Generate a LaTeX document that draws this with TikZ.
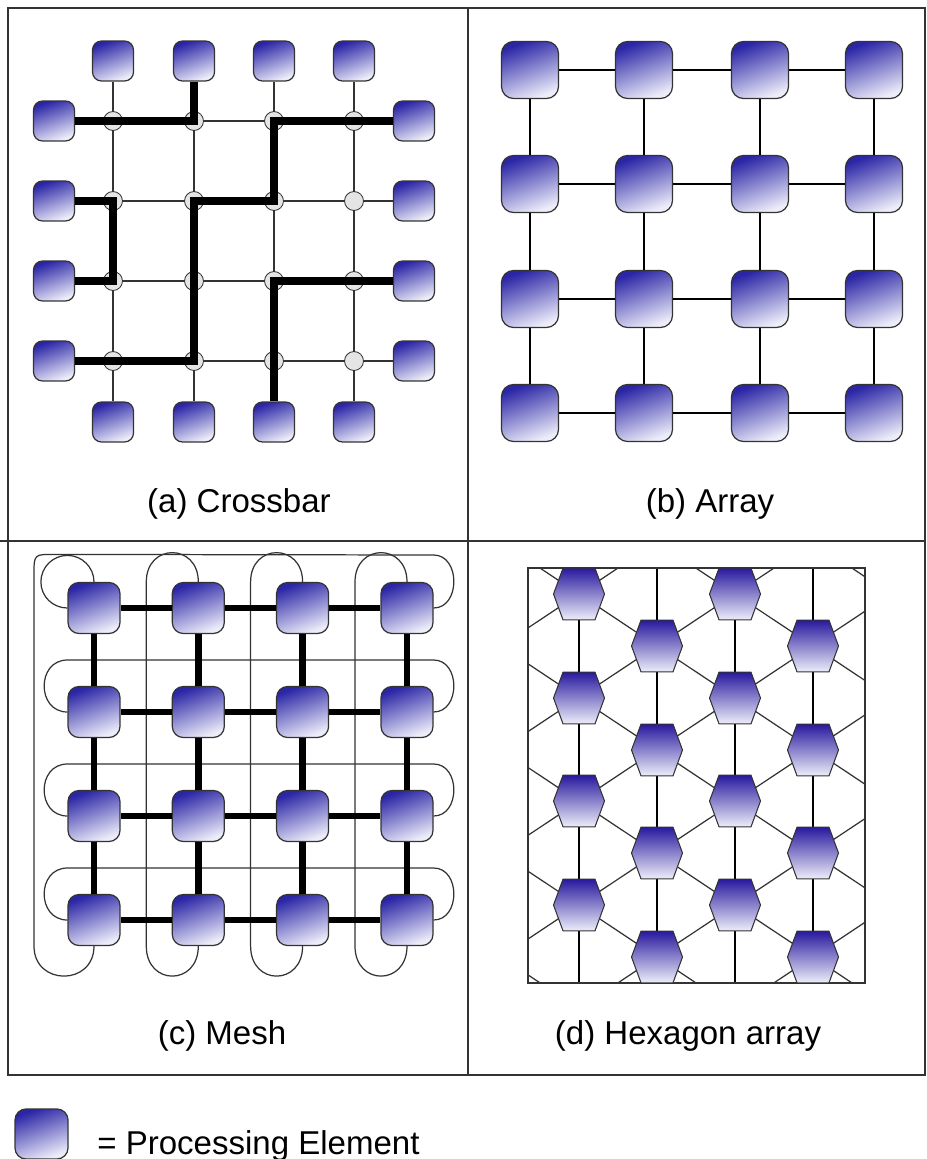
\documentclass[tikz,border=0pt]{standalone}
\usepackage{fontspec}
\setmainfont{Liberation Sans}
\usetikzlibrary{calc}
\definecolor{PEDarkClr}{rgb}{0.17,0.15,0.65}
\definecolor{PELightClr}{rgb}{0.93,0.93,0.98}
\definecolor{HexDarkClr}{rgb}{0.16,0.10,0.62}
\definecolor{WireClr}{rgb}{0.2,0.2,0.2}
\definecolor{SwitchClr}{rgb}{0.9,0.9,0.9}

\begin{document}
\begin{tikzpicture}[x=0.02cm,y=-0.02cm,
  pe/.style={draw=WireClr,line width=0.7pt,top color=PEDarkClr,bottom color=PELightClr,shading angle=20,inner sep=0pt},
  crosspe/.style={pe,minimum width=0.82cm,minimum height=0.8cm,rounded corners=0.18cm},
  arraype/.style={pe,minimum size=1.14cm,rounded corners=0.24cm},
  meshpe/.style={pe,minimum width=1.04cm,minimum height=1.02cm,rounded corners=0.22cm},
  keype/.style={pe,minimum width=1.06cm,minimum height=1cm,rounded corners=0.22cm},
  hexpe/.style={draw=WireClr,line width=0.6pt,top color=HexDarkClr,bottom color=PELightClr},
  switch/.style={circle,draw=WireClr,line width=0.5pt,fill=SwitchClr,minimum size=0.38cm,inner sep=0pt},
  thinwire/.style={draw=WireClr,line width=0.6pt},
  hexwire/.style={draw=WireClr,line width=0.7pt},
  route/.style={draw=black,line width=4.5pt},
  link/.style={draw=black,line width=1.3pt},
  meshlink/.style={draw=black,line width=3.7pt},
  wrap/.style={draw=WireClr,line width=0.7pt},
  frame/.style={draw=WireClr,line width=0.85pt},
  caption/.style={font=\fontsize{18.8}{22}\selectfont,inner sep=0pt}]
\useasboundingbox (0,0) rectangle (926,1159);

\draw[frame] (8,8) rectangle (925,1075);
\draw[frame] (468,8) -- (468,1075);
\draw[frame] (0,541) -- (925,541);

\foreach \j/\x in {1/113,2/194,3/274,4/354} {
  \node[crosspe] (aT\j) at (\x,61) {};
  \node[crosspe] (aB\j) at (\x,422) {};
}
\foreach \i/\y in {1/121,2/201,3/281,4/361} {
  \node[crosspe] (aL\i) at (54,\y) {};
  \node[crosspe] (aR\i) at (414,\y) {};
}
\foreach \k in {1,...,4} {
  \draw[thinwire] (aT\k) -- (aB\k);
  \draw[thinwire] (aL\k) -- (aR\k);
}
\foreach \i in {1,...,4}
  \foreach \j in {1,...,4}
    \node[switch] (s\i\j) at (aT\j |- aL\i) {};
\draw[route] (aL1) -| (aT2);
\draw[route] (aR1) -| (s23.center) -| (s42.center) -- (aL4);
\draw[route] (aL2) -| (s31.center) -- (aL3);
\draw[route] (aR3) -| (aB3);
\node[caption,anchor=base] (capA) at (239,512) {(a) Crossbar};

\foreach \i/\y in {1/70,2/184,3/299,4/413}
  \foreach \j/\x in {1/530,2/644,3/760,4/874}
    \node[arraype] (b\i\j) at (\x,\y) {};
\foreach \i in {1,...,4}
  \foreach \j/\k in {1/2,2/3,3/4} {
    \draw[link] (b\i\j) -- (b\i\k);
    \draw[link] (b\j\i) -- (b\k\i);
  }
\node[caption,anchor=base] (capB) at (710,512) {(b) Array};

\foreach \i/\y in {1/608,2/712,3/816,4/920}
  \foreach \j/\x in {1/94,2/198.3,3/302.6,4/407}
    \node[meshpe] (c\i\j) at (\x,\y) {};
\foreach \i in {2,3,4}
  \draw[wrap] (c\i1.west) .. controls +(-31,0) and +(-31,0) .. ($(c\i1.west)+(0,-52)$)
    -- ($(c\i4.east)+(0,-52)$) .. controls +(27,0) and +(27,0) .. (c\i4.east);
\foreach \j in {2,3,4}
  \draw[wrap] (c1\j.north) .. controls +(0,-39) and +(0,-39) .. ($(c1\j.north)+(-52,0)$)
    -- ($(c4\j.south)+(-52,0)$) .. controls +(0,40) and +(0,40) .. (c4\j.south);
\draw[wrap] (c41.south) .. controls +(0,40) and +(0,40) .. ($(c41.south)+(-60,0)$)
  -- ($(c11.north)+(-60,-7.5)$) .. controls ($(c11.north)+(-60,-27.5)$) .. ($(c11.north)+(-40,-27.5)$)
  -- ($(c14.east)+(0,-53)$) .. controls +(27,0) and +(27,0) .. (c14.east);
\draw[wrap] (c11.north) .. controls +(0,-14.6) and +(14.6,0) .. ($(c11.north west)+(0,-26.5)$)
  .. controls +(-14.6,0) and +(0,-14.6) .. ($(c11.north west)+(-26.5,0)$)
  .. controls +(0,14.6) and +(-14.6,0) .. (c11.west);
\foreach \i in {1,...,4}
  \foreach \j/\k in {1/2,2/3,3/4} {
    \draw[meshlink] (c\i\j) -- (c\i\k);
    \draw[meshlink] (c\j\i) -- (c\k\i);
  }
\node[caption,anchor=base] (capC) at (222,1044) {(c) Mesh};

\begin{scope}
\clip (528,568) rectangle (865,983);
\foreach \x in {579,657,735,813}
  \draw[thinwire,draw=black] (\x,568) -- (\x,983);
\foreach \k in {-2,...,4}
  \draw[hexwire] (528,{560.1+103.7*\k}) -- (865,{784.2+103.7*\k});
\foreach \k in {0,...,5}
  \draw[hexwire] (528,{627.9+103.7*\k}) -- (865,{403.8+103.7*\k});
\end{scope}
\draw[thinwire] (528,568) rectangle (865,983);
\foreach \n/\x/\y in {11/579/594,12/579/698,13/579/801,14/579/905,
                      21/657/646,22/657/750,23/657/853,24/657/957,
                      31/735/594,32/735/698,33/735/801,34/735/905,
                      41/813/646,42/813/750,43/813/853,44/813/957} {
  \coordinate (d\n) at (\x,\y);
  \draw[hexpe] ($(d\n)+(-25.5,0)$) -- ++(9.5,-25.8) -- ++(32,0) -- ++(9.5,25.8)
    -- ++(-9.5,25.8) -- ++(-32,0) -- cycle;
}
\node[caption,anchor=base] (capD) at (688,1044) {(d) Hexagon array};

\node[keype] (key) at (41.5,1134) {};
\node[caption,anchor=base west] (keytext) at (97,1154) {= Processing Element};
\end{tikzpicture}
\end{document}
